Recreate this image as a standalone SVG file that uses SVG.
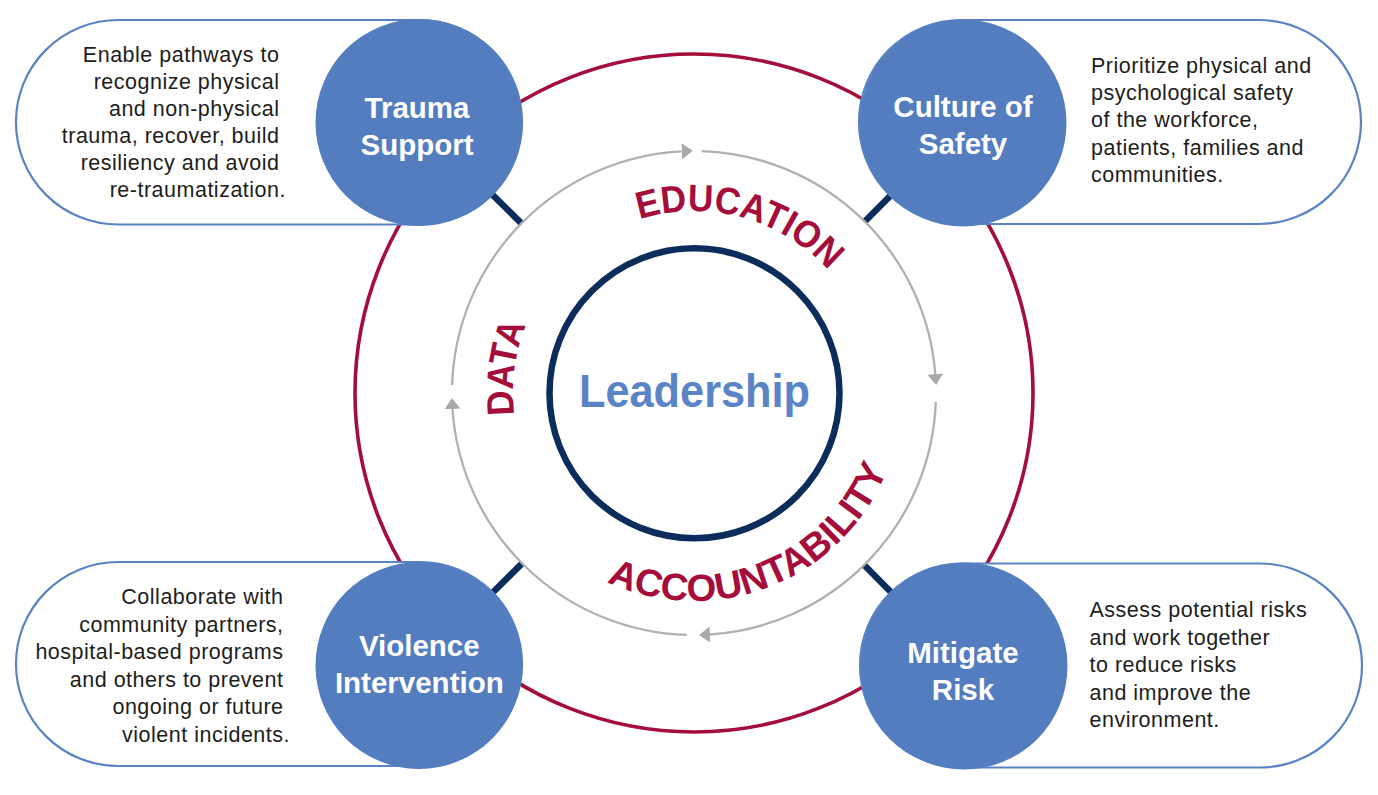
<svg xmlns="http://www.w3.org/2000/svg" width="1378" height="795" viewBox="0 0 1378 795">
<style>
.pill{fill:#ffffff;stroke:#5b83c3;stroke-width:2.2}
.node{fill:#537dbf}
.lbl{font-family:"Liberation Sans",Arial,sans-serif;font-weight:bold;font-size:29.5px;fill:#ffffff;text-anchor:middle}
.desc{font-family:"Liberation Sans",Arial,sans-serif;font-size:21.5px;letter-spacing:0.5px;fill:#1d1d1b}
.arc{fill:none;stroke:#b1b1b1;stroke-width:2.3}
.conn{stroke:#0c2d5c;stroke-width:6.5}
.curved{font-family:"Liberation Sans",Arial,sans-serif;font-weight:bold;font-size:38px;fill:#a50d3a}
</style>
<defs>
<marker id="arrow" markerUnits="userSpaceOnUse" viewBox="0 0 11 16" refX="0" refY="8" markerWidth="11" markerHeight="16" orient="auto">
<path d="M0,0 L11,8 L0,16 z" fill="#a9a9a9"/>
</marker>
<path id="pEdu" d="M639.27,219.43 A182,182 0 0 1 851.62,302"/>
<path id="pData" d="M514.35,415.06 A181,181 0 0 1 545.73,289.18"/>
<path id="pAcc" d="M606.75,581.8 A208,208 0 0 0 898.8,429.1"/>
</defs>

<g id="rings">
<circle cx="694" cy="393" r="339" fill="none" stroke="#a50d3a" stroke-width="3.6"/>
</g>

<g id="connectors">
<path class="arc" d="M701.6,151.1 A242,242 0 0 1 935.3,374.0" marker-end="url(#arrow)"/>
<path class="arc" d="M935.8,401.9 A242,242 0 0 1 710.0,634.5" marker-end="url(#arrow)"/>
<path class="arc" d="M686.8,634.9 A242,242 0 0 1 452.5,409.0" marker-end="url(#arrow)"/>
<path class="arc" d="M452.1,385.0 A242,242 0 0 1 681.8,151.3" marker-end="url(#arrow)"/>
<line class="conn" x1="520.7" y1="222.6" x2="480.1" y2="182.6"/>
<line class="conn" x1="865.5" y1="220.8" x2="905.7" y2="180.4"/>
<line class="conn" x1="521.4" y1="564.1" x2="480.9" y2="604.2"/>
<line class="conn" x1="864.9" y1="565.7" x2="904.9" y2="606.3"/>
</g>

<g id="leadership">
<circle cx="694.5" cy="393.3" r="145" fill="none" stroke="#0c2d5c" stroke-width="6.5"/>
<text x="694.5" y="407" text-anchor="middle" font-family="'Liberation Sans',Arial,sans-serif" font-weight="bold" font-size="46" fill="#5a84c5" textLength="231" lengthAdjust="spacingAndGlyphs">Leadership</text>
</g>

<g id="ring-labels">
<text class="curved"><textPath href="#pEdu" textLength="207" lengthAdjust="spacingAndGlyphs">EDUCATION</textPath></text>
<text class="curved"><textPath href="#pData" textLength="92" lengthAdjust="spacingAndGlyphs">DATA</textPath></text>
<text class="curved"><textPath href="#pAcc" textLength="338" lengthAdjust="spacingAndGlyphs">ACCOUNTABILITY</textPath></text>
</g>

<g id="trauma-support">
<rect class="pill" x="16" y="20" width="506" height="204.5" rx="102"/>
<circle class="node" cx="419" cy="122.5" r="103.5"/>
<text class="lbl"><tspan x="417" y="118.3">Trauma</tspan><tspan x="417" y="155">Support</tspan></text>
<text class="desc" text-anchor="end">
<tspan x="286" y="61.5">Enable pathways to</tspan>
<tspan x="286" y="88.5">recognize physical</tspan>
<tspan x="286" y="115.5">and non-physical</tspan>
<tspan x="286" y="142.5">trauma, recover, build</tspan>
<tspan x="286" y="169.5">resiliency and avoid</tspan>
<tspan x="286" y="196.5">re-traumatization.</tspan>
</text>
</g>

<g id="culture-of-safety">
<rect class="pill" x="859" y="20" width="502" height="204" rx="102"/>
<circle class="node" cx="963" cy="123" r="103.5"/>
<text class="lbl"><tspan x="963" y="117.3">Culture of</tspan><tspan x="963" y="154">Safety</tspan></text>
<text class="desc">
<tspan x="1091" y="73">Prioritize physical and</tspan>
<tspan x="1091" y="100.2">psychological safety</tspan>
<tspan x="1091" y="127.4">of the workforce,</tspan>
<tspan x="1091" y="154.6">patients, families and</tspan>
<tspan x="1091" y="181.8">communities.</tspan>
</text>
</g>

<g id="violence-intervention">
<rect class="pill" x="16" y="562" width="506" height="204" rx="102"/>
<circle class="node" cx="419" cy="665.5" r="103.5"/>
<text class="lbl"><tspan x="419.3" y="656">Violence</tspan><tspan x="419.3" y="693">Intervention</tspan></text>
<text class="desc" text-anchor="end">
<tspan x="290" y="604.3">Collaborate with</tspan>
<tspan x="290" y="631.8">community partners,</tspan>
<tspan x="290" y="659.3">hospital-based programs</tspan>
<tspan x="290" y="686.8">and others to prevent</tspan>
<tspan x="290" y="714.3">ongoing or future</tspan>
<tspan x="290" y="741.8">violent incidents.</tspan>
</text>
</g>

<g id="mitigate-risk">
<rect class="pill" x="860" y="563.5" width="502" height="204" rx="102"/>
<circle class="node" cx="964" cy="666" r="103.5"/>
<text class="lbl"><tspan x="963" y="663">Mitigate</tspan><tspan x="963" y="700">Risk</tspan></text>
<text class="desc">
<tspan x="1089.5" y="617.3">Assess potential risks</tspan>
<tspan x="1089.5" y="644.7">and work together</tspan>
<tspan x="1089.5" y="672.1">to reduce risks</tspan>
<tspan x="1089.5" y="699.5">and improve the</tspan>
<tspan x="1089.5" y="726.9">environment.</tspan>
</text>
</g>
</svg>
